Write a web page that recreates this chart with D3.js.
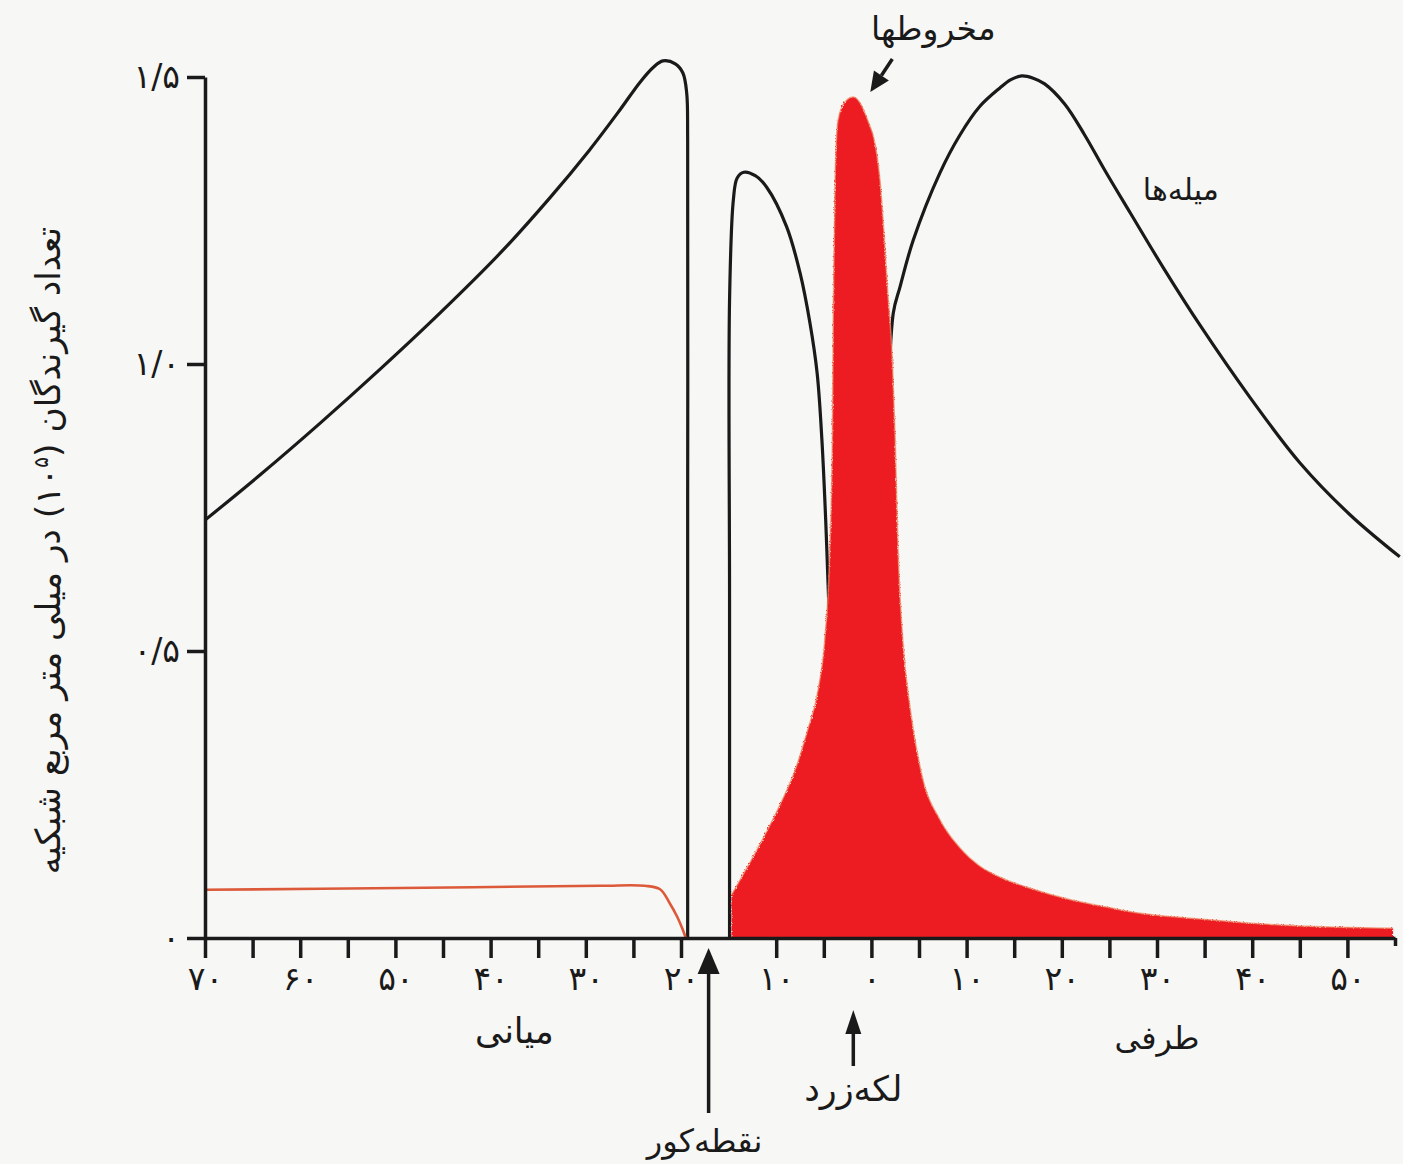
<!DOCTYPE html>
<html>

<head>
  <meta charset="utf-8">
  <title>Rods and cones</title>
  <script type="text/javascript" src="https://cdn.jsdelivr.net/npm/d3@7"></script>
  <style type="text/css">
    body { margin: 0; background: #f7f7f5; }
    text { font-family: "DejaVu Sans", sans-serif; fill: #1a1a1a; }
  </style>
</head>

<body>
  <script type="text/javascript">

    // Rods, nasal side (degrees from fovea, negative = nasal) up to the blind spot
    const rodLeftDeg = [-70, -64.2, -57.9, -51.6, -45.3, -39.0, -33.8, -29.6, -26.4, -24.3, -22.9, -21.9, -20.6, -19.8, -19.4, -19.3, -19.3, -19.3];
    const rodLeftVal = [0.728, 0.807, 0.897, 0.991, 1.089, 1.193, 1.289, 1.373, 1.443, 1.491, 1.517, 1.528, 1.523, 1.507, 1.472, 1.390, 0.763, 0];

    // Rods, from the blind spot through the fovea to the temporal side
    const rodRightDeg = [-14.9, -14.9, -14.9, -14.5, -14.1, -13.4, -12.2, -11.0, -8.9, -7.5, -6.45, -5.7, -5.2, -4.8, -4.45, -3.5, -2.5, -1.2, 0.0, 0.8, 1.5, 2.3, 3.0, 4.4, 7.2, 9.3, 11.4, 13.5, 14.6, 15.8, 17.0, 18.2, 20.3, 22.4, 24.5, 27.2, 30.8, 34.5, 39.8, 45.0, 50.3, 55.5];
    const rodRightVal = [0, 0.589, 1.111, 1.286, 1.324, 1.334, 1.328, 1.308, 1.239, 1.159, 1.071, 0.984, 0.868, 0.728, 0.571, 0.24, 0.06, 0.02, 0.1, 0.45, 0.8, 1.089, 1.134, 1.216, 1.333, 1.399, 1.449, 1.481, 1.495, 1.502, 1.498, 1.488, 1.453, 1.399, 1.338, 1.263, 1.164, 1.068, 0.941, 0.828, 0.737, 0.664];

    // Cones, nasal side (thin line)
    const coneLeftDeg = [-70, -49.5, -28.5, -23.8, -22.2, -21.2, -20.4, -19.8, -19.5];
    const coneLeftVal = [0.084, 0.087, 0.091, 0.091, 0.085, 0.061, 0.037, 0.014, 0];

    // Cones, from the blind spot to the temporal side (filled)
    const coneDeg = [-14.7, -13.8, -12.5, -11.2, -9.6, -8.0, -6.7, -5.6, -4.9, -4.4, -4.1, -4.0, -3.8, -3.5, -2.8, -1.9, -1.2, -0.4, 0.4, 0.9, 1.3, 1.7, 2.2, 2.5, 2.8, 3.3, 4.1, 5.3, 7.2, 9.3, 11.4, 13.5, 17.0, 20.6, 24.0, 27.5, 34.5, 41.6, 48.2, 54.8];
    const coneVal = [0.075, 0.101, 0.139, 0.179, 0.232, 0.293, 0.362, 0.432, 0.519, 0.659, 0.868, 1.099, 1.333, 1.425, 1.456, 1.465, 1.455, 1.425, 1.382, 1.321, 1.233, 1.129, 1.007, 0.868, 0.676, 0.519, 0.397, 0.284, 0.206, 0.157, 0.125, 0.106, 0.085, 0.068, 0.056, 0.045, 0.033, 0.024, 0.019, 0.017];

    // Axis ticks
    const xTicks = [-70, -65, -60, -55, -50, -45, -40, -35, -30, -25, -20, -10, -5, 0, 5, 10, 15, 20, 25, 30, 35, 40, 45, 50, 55];
    const xLabelled = [-70, -60, -50, -40, -30, -20, -10, 0, 10, 20, 30, 40, 50];
    const yTicks = [0, 0.5, 1.0, 1.5];

    // Texts
    const yTitleA = "تعداد گیرندگان (۱۰";
    const yTitleSup = "۵";
    const yTitleB = ") در میلی متر مربع شبکیه";
    const nasalLabel = "میانی";
    const temporalLabel = "طرفی";
    const foveaLabel = "لکه‌زرد";
    const blindLabel = "نقطه‌کور";
    const conesLabel = "مخروطها";
    const rodsLabel = "میله‌ها";

    const fa = n => String(n).replace(/\d/g, c => "۰۱۲۳۴۵۶۷۸۹"[+c]);
    const zip = (a, b) => a.map((d, i) => [d, b[i]]);

    const w = 1403;
    const h = 1164;

    const x = d3.scaleLinear().domain([-70, 55]).range([205, 1395]);
    const y = d3.scaleLinear().domain([0, 1.5]).range([938, 77]);

    const svg = d3.select("body")
      .append("svg")
      .attr("width", w)
      .attr("height", h);

    svg.append("rect")
      .attr("width", w)
      .attr("height", h)
      .attr("fill", "#f7f7f5");

    const defs = svg.append("defs");
    const rough = defs.append("filter").attr("id", "rough")
      .attr("x", "-5%").attr("y", "-5%").attr("width", "110%").attr("height", "110%");
    rough.append("feTurbulence")
      .attr("type", "fractalNoise")
      .attr("baseFrequency", 0.9)
      .attr("numOctaves", 2)
      .attr("result", "noise");
    rough.append("feDisplacementMap")
      .attr("in", "SourceGraphic")
      .attr("in2", "noise")
      .attr("scale", 4);

    const line = d3.line()
      .x(d => x(d[0]))
      .y(d => y(d[1]))
      .curve(d3.curveCatmullRom.alpha(0.5));

    // rods
    svg.append("path")
      .attr("d", line(zip(rodLeftDeg, rodLeftVal)))
      .attr("fill", "none")
      .attr("stroke", "#1a1a1a")
      .attr("stroke-width", 3.2);

    svg.append("path")
      .attr("d", line(zip(rodRightDeg, rodRightVal)))
      .attr("fill", "none")
      .attr("stroke", "#1a1a1a")
      .attr("stroke-width", 3.2);

    // cones, nasal line
    svg.append("path")
      .attr("d", line(zip(coneLeftDeg, coneLeftVal)))
      .attr("fill", "none")
      .attr("stroke", "#dc5a3a")
      .attr("stroke-width", 2.6);

    // cones, filled
    const cones = zip(coneDeg, coneVal);
    const area = d3.area()
      .x(d => x(d[0]))
      .y0(y(0))
      .y1(d => y(d[1]))
      .curve(d3.curveMonotoneX);

    svg.append("path")
      .attr("d", area(cones))
      .attr("fill", "#ec1c24")
      .attr("filter", "url(#rough)");

    svg.append("path")
      .attr("d", d3.line().x(d => x(d[0])).y(d => y(d[1])).curve(d3.curveMonotoneX)(cones))
      .attr("fill", "none")
      .attr("stroke", "#ef8c68")
      .attr("stroke-width", 1.5)
      .attr("opacity", 0.7);

    // axes
    const xAxis = d3.axisBottom(x)
      .tickValues(xTicks)
      .tickSize(20)
      .tickSizeOuter(0)
      .tickPadding(9)
      .tickFormat(d => xLabelled.includes(d) ? fa(Math.abs(d)) : "");

    const gx = svg.append("g")
      .attr("transform", `translate(0,${y(0)})`)
      .call(xAxis);

    const yAxis = d3.axisLeft(y)
      .tickValues(yTicks)
      .tickSize(18)
      .tickSizeOuter(0)
      .tickPadding(7)
      .tickFormat(d => d === 0 ? "۰" : fa(d.toFixed(1)).replace(".", "/"));

    const gy = svg.append("g")
      .attr("transform", `translate(${x(-70)},0)`)
      .call(yAxis);

    [gx, gy].forEach(g => {
      g.select(".domain").attr("stroke", "#1a1a1a").attr("stroke-width", 3.5);
      g.selectAll(".tick line").attr("stroke", "#1a1a1a").attr("stroke-width", 3.5);
      g.selectAll(".tick text")
        .attr("font-size", 33)
        .attr("font-family", "DejaVu Sans")
        .attr("fill", "#1a1a1a");
    });
    gx.selectAll(".tick line").filter(d => d === 55).attr("y2", 8);

    // y title
    const yTitle = svg.append("text")
      .attr("transform", `translate(60,${(y(0) + y(1.5)) / 2 + 43}) rotate(-90)`)
      .attr("text-anchor", "middle")
      .attr("direction", "rtl")
      .attr("font-size", 28);
    yTitle.append("tspan").text(yTitleA);
    yTitle.append("tspan").attr("baseline-shift", "super").attr("font-size", 20).text(yTitleSup);
    yTitle.append("tspan").text(yTitleB);
    const len = yTitle.node().getComputedTextLength();
    yTitle.attr("font-size", 28 * 650 / len);

    // labels
    const label = (txt, px, py, size) => svg.append("text")
      .attr("x", px)
      .attr("y", py)
      .attr("text-anchor", "middle")
      .attr("dominant-baseline", "middle")
      .attr("font-size", size)
      .text(txt);

    label(nasalLabel, x(-37.5), 1033, 35);
    label(temporalLabel, x(30), 1040, 32);
    label(rodsLabel, x(32.5), y(1.3), 30);
    label(conesLabel, x(6.5), 30, 33);

    // arrow helper: shaft + filled head
    const arrow = (x1, y1, x2, y2, headLen, halfW) => {
      const dx = x2 - x1, dy = y2 - y1, L = Math.hypot(dx, dy);
      const ux = dx / L, uy = dy / L;
      const bx = x2 - ux * headLen, by = y2 - uy * headLen;
      svg.append("line")
        .attr("x1", x1).attr("y1", y1).attr("x2", bx).attr("y2", by)
        .attr("stroke", "#1a1a1a").attr("stroke-width", 3.5);
      svg.append("path")
        .attr("d", `M${x2},${y2}L${bx - uy * halfW},${by + ux * halfW}L${bx + uy * halfW},${by - ux * halfW}Z`)
        .attr("fill", "#1a1a1a");
    };

    // fovea: where the cone curve peaks
    const peak = cones[d3.maxIndex(cones, d => d[1])];
    arrow(x(peak[0]), y(0) + 128, x(peak[0]), y(0) + 72, 24, 8);
    label(foveaLabel, x(peak[0]), y(0) + 153, 35);

    // blind spot: gap between the two rod segments
    const blind = (rodLeftDeg[rodLeftDeg.length - 1] + rodRightDeg[0]) / 2;
    arrow(x(blind), y(0) + 175, x(blind), y(0) + 10, 26, 11);
    label(blindLabel, x(blind) - 4, y(0) + 205, 32);

    // cones arrow
    arrow(x(peak[0]) + 39, y(peak[1]) - 38, x(peak[0]) + 17, y(peak[1]) - 5, 20, 9);

  </script>
</body>

</html>
